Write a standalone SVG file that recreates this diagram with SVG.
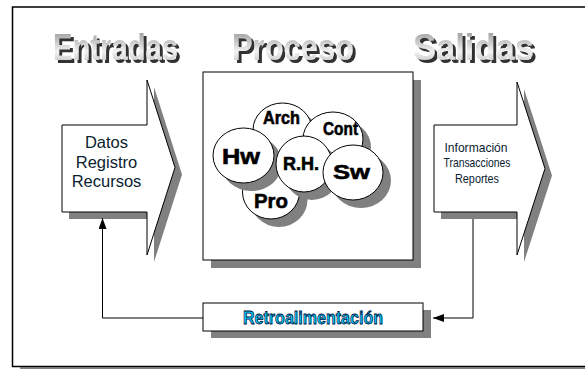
<svg xmlns="http://www.w3.org/2000/svg" width="585" height="369" viewBox="0 0 585 369">
<style>
.sh{fill:#808080;stroke:none}
.box{fill:#fff;stroke:#000;stroke-width:1}
.ttl{font-family:"Liberation Sans Narrow","Liberation Sans",Arial,sans-serif;font-weight:bold;font-size:37px;fill:url(#tg);filter:url(#tsh)}
.ct{font-family:"Liberation Sans Narrow","Liberation Sans",Arial,sans-serif;font-weight:bold;fill:#000;stroke:#000;stroke-width:0.6;text-anchor:middle}
.bt{font-family:"Liberation Sans",Arial,sans-serif;fill:#0a2230;text-anchor:middle}
.conn{fill:none;stroke:#000;stroke-width:1}
</style>
<defs>
<linearGradient id="tg" x1="0" y1="0" x2="0" y2="1">
<stop offset="0" stop-color="#8a8a8a"/>
<stop offset="0.6" stop-color="#f2f2f2"/>
<stop offset="1" stop-color="#b4b4b4"/>
</linearGradient>
<filter id="tsh" x="-5%" y="-10%" width="115%" height="130%">
<feOffset in="SourceAlpha" dx="3" dy="3" result="o"/>
<feFlood flood-color="#333333"/>
<feComposite in2="o" operator="in" result="s"/>
<feMerge><feMergeNode in="s"/><feMergeNode in="SourceGraphic"/></feMerge>
</filter>
<marker id="ah" markerUnits="userSpaceOnUse" markerWidth="11" markerHeight="8" refX="11" refY="4" orient="auto">
<path d="M0,0 L11,4 L0,8 Z" fill="#000"/>
</marker>
</defs>

<g id="frame">
<line x1="20" y1="368.3" x2="585" y2="368.3" stroke="#808080" stroke-width="2"/>
<path d="M585,7 H12.5 V366.5 H585" fill="none" stroke="#000" stroke-width="1.5"/>
</g>

<g id="titles">
<text class="ttl" x="53" y="60" textLength="125" lengthAdjust="spacingAndGlyphs">Entradas</text>
<text class="ttl" x="232" y="60" textLength="122" lengthAdjust="spacingAndGlyphs">Proceso</text>
<text class="ttl" x="413" y="60" textLength="121" lengthAdjust="spacingAndGlyphs">Salidas</text>
</g>

<g id="entradas">
<polygon class="sh" points="69,132 154,132 154,87 182,174.5 154,262 154,219 69,219"/>
<polygon class="box" points="62,125 147,125 147,80 175,167.5 147,255 147,212 62,212"/>
<text class="bt" font-size="16.5" x="106.5" y="148.3">Datos</text>
<text class="bt" font-size="16.5" x="106.5" y="167.5">Registro</text>
<text class="bt" font-size="16.5" x="106.5" y="187.3">Recursos</text>
</g>

<g id="proceso">
<rect class="sh" x="211" y="80" width="210" height="188"/>
<rect class="box" x="203" y="72" width="210" height="188"/>
</g>

<g id="arch">
<ellipse class="sh" cx="290.5" cy="138" rx="29.5" ry="27"/>
<ellipse class="box" cx="282.5" cy="130" rx="29.5" ry="27"/>
<text class="ct" x="281.5" y="123.5" font-size="18" textLength="37" lengthAdjust="spacingAndGlyphs">Arch</text>
</g>
<g id="cont">
<ellipse class="sh" cx="341" cy="147" rx="30" ry="27"/>
<ellipse class="box" cx="333" cy="139" rx="30" ry="27"/>
<text class="ct" x="340.5" y="135" font-size="18" textLength="35" lengthAdjust="spacingAndGlyphs">Cont</text>
</g>
<g id="pro">
<ellipse class="sh" cx="279" cy="200" rx="28.5" ry="27"/>
<ellipse class="box" cx="271" cy="192" rx="28.5" ry="27"/>
<text class="ct" x="271" y="208" font-size="21" textLength="34" lengthAdjust="spacingAndGlyphs">Pro</text>
</g>
<g id="hw">
<ellipse class="sh" cx="251.5" cy="163.5" rx="30.5" ry="27.5"/>
<ellipse class="box" cx="243.5" cy="155.5" rx="30.5" ry="27.5"/>
<text class="ct" x="241" y="163.5" font-size="22" textLength="38" lengthAdjust="spacingAndGlyphs">Hw</text>
</g>
<g id="rh">
<ellipse class="sh" cx="312" cy="172" rx="28" ry="28"/>
<ellipse class="box" cx="304" cy="164" rx="28" ry="28"/>
<text class="ct" x="301" y="170" font-size="18" textLength="36" lengthAdjust="spacingAndGlyphs">R.H.</text>
</g>
<g id="sw">
<ellipse class="sh" cx="361" cy="180.5" rx="30" ry="27.5"/>
<ellipse class="box" cx="353" cy="172.5" rx="30" ry="27.5"/>
<text class="ct" x="351.5" y="179" font-size="21" textLength="37" lengthAdjust="spacingAndGlyphs">Sw</text>
</g>

<g id="salidas">
<polygon class="sh" points="441,132 524,132 524,89 552,175.5 524,262 524,219 441,219"/>
<polygon class="box" points="434,125 517,125 517,82 545,168.5 517,255 517,212 434,212"/>
<text class="bt" font-size="13" x="476" y="151.5" textLength="63" lengthAdjust="spacingAndGlyphs">Información</text>
<text class="bt" font-size="13" x="477" y="167" textLength="67" lengthAdjust="spacingAndGlyphs">Transacciones</text>
<text class="bt" font-size="13" x="477" y="182.5" textLength="44" lengthAdjust="spacingAndGlyphs">Reportes</text>
</g>

<g id="retroalimentacion">
<rect class="sh" x="211" y="310" width="220" height="28"/>
<rect class="box" x="203" y="303" width="220" height="28"/>
<text x="313" y="324" font-family="'Liberation Sans Narrow','Liberation Sans',Arial,sans-serif" font-weight="bold" font-size="19" fill="#00c8f8" stroke="#001040" stroke-width="0.8" text-anchor="middle" textLength="140" lengthAdjust="spacingAndGlyphs">Retroalimentación</text>
</g>

<g id="connectors">
<path class="conn" d="M473,219 V318 H433" marker-end="url(#ah)"/>
<path class="conn" d="M203,318 H102.5 V218" marker-end="url(#ah)"/>
</g>
</svg>
